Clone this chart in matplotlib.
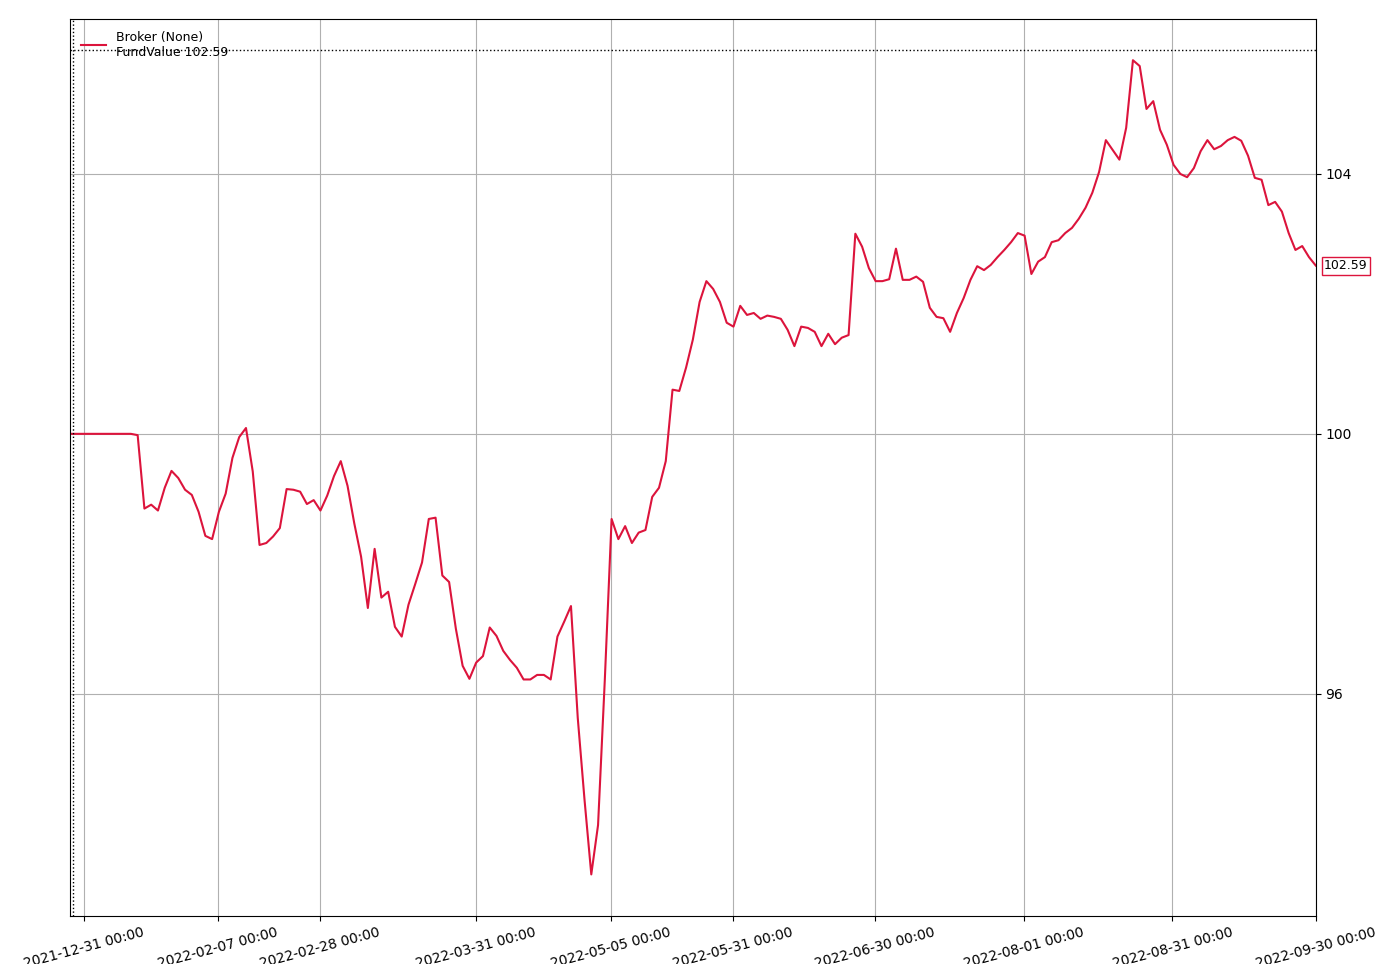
import matplotlib
matplotlib.use("Agg")
import matplotlib.pyplot as plt
import numpy as np

# fund value per bar
values = [100.0] * 10 + [
    99.98, 98.85, 98.91, 98.82, 99.17, 99.43, 99.32, 99.14, 99.06, 98.80,
    98.43, 98.38, 98.80, 99.08, 99.63, 99.95, 100.09, 99.42, 98.29, 98.32,
    98.42, 98.55, 99.15, 99.14, 99.11, 98.92, 98.98, 98.82, 99.05, 99.35,
    99.58, 99.20, 98.62, 98.11, 97.32, 98.23, 97.48, 97.57, 97.03, 96.88,
    97.37, 97.69, 98.02, 98.69, 98.71, 97.82, 97.72, 97.00, 96.43, 96.23,
    96.48, 96.58, 97.02, 96.89, 96.66, 96.52, 96.40, 96.22, 96.22, 96.29,
    96.29, 96.22, 96.88, 97.11, 97.35, 95.63, 94.37, 93.22, 93.98, 96.22,
    98.69, 98.38, 98.58, 98.32, 98.48, 98.52, 99.03, 99.17, 99.58, 100.68,
    100.66, 101.02, 101.45, 102.03, 102.35, 102.23, 102.03, 101.71, 101.65, 101.97,
    101.83, 101.86, 101.77, 101.82, 101.80, 101.77, 101.60, 101.35, 101.65, 101.63,
    101.57, 101.35, 101.54, 101.38, 101.48, 101.52, 103.08, 102.88, 102.55, 102.35,
    102.35, 102.38, 102.85, 102.37, 102.37, 102.42, 102.34, 101.94, 101.80, 101.78,
    101.57, 101.86, 102.09, 102.37, 102.58, 102.52, 102.60, 102.72, 102.83, 102.95,
    103.09, 103.05, 102.46, 102.65, 102.72, 102.95, 102.98, 103.09, 103.17, 103.31,
    103.48, 103.71, 104.03, 104.52, 104.37, 104.22, 104.71, 105.75, 105.66, 105.00,
    105.12, 104.68, 104.45, 104.14, 104.00, 103.95, 104.09, 104.35, 104.52, 104.38,
    104.43, 104.52, 104.57, 104.51, 104.28, 103.94, 103.91, 103.52, 103.57, 103.42,
    103.09, 102.83, 102.89, 102.72, 102.59,
]
tick_labels = ["2021-12-31 00:00", "2022-02-07 00:00", "2022-02-28 00:00",
               "2022-03-31 00:00", "2022-05-05 00:00", "2022-05-31 00:00",
               "2022-06-30 00:00", "2022-08-01 00:00", "2022-08-31 00:00",
               "2022-09-30 00:00"]
tick_frac = [0.011, 0.119, 0.2006, 0.326, 0.434, 0.532, 0.646, 0.766, 0.885, 1.0]
max_line = 105.9

n = len(values)
x = np.arange(n)
last = values[-1]

fig = plt.figure(figsize=(13.85, 9.64), dpi=100)
ax = fig.add_axes([0.0505, 0.0498, 0.8995, 0.9302])
ax.plot(x, values, color="crimson", lw=1.5, label=f"Broker (None)\nFundValue {last:.2f}")
ax.axhline(max_line, color="black", ls=":", lw=1)
ax.axvline(0.45, color="black", ls=":", lw=1)
ax.set_xlim(0, n - 1)
ax.set_ylim(92.58, 106.38)
ax.yaxis.tick_right()
ax.set_yticks([96, 100, 104])
ax.set_xticks([f * (n - 1) for f in tick_frac])
ax.set_xticklabels(tick_labels, rotation=15, ha="center")
ax.grid(True, color="#b0b0b0")
ax.tick_params(labelsize=10)
ax.legend(loc="upper left", frameon=False, fontsize=9)
ax.annotate(f"{last:.2f}", xy=(n - 1, last), xytext=(6, 0), textcoords="offset points",
            va="center", ha="left", fontsize=9,
            bbox=dict(boxstyle="square,pad=0.2", fc="white", ec="crimson"))

fig.savefig("out.png", dpi=100)
